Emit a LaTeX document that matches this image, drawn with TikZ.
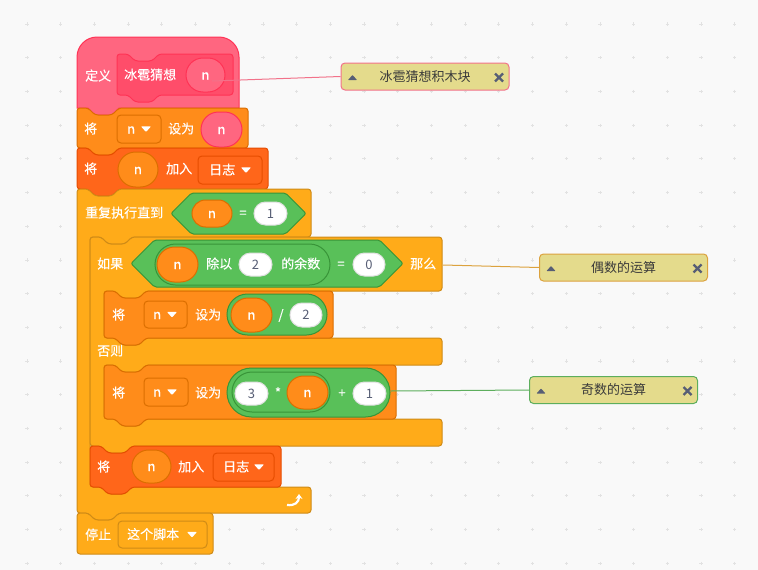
\documentclass[tikz,border=0pt]{standalone}
\usepackage{fontspec}
\newfontfamily\cjk{Noto Sans CJK SC}
\newfontfamily\cjkb[FakeBold=0.35]{Noto Sans CJK SC}
\usetikzlibrary{shapes.misc,arrows.meta}
\definecolor{bgc}{HTML}{F9F9F9}
\definecolor{gridc}{HTML}{E2E2E2}
\definecolor{hatF}{HTML}{FF6680}
\definecolor{hatD}{HTML}{FF3355}
\definecolor{protoF}{HTML}{FF4D6A}
\definecolor{varF}{HTML}{FF8C1A}
\definecolor{varD}{HTML}{DB6E00}
\definecolor{listF}{HTML}{FF661A}
\definecolor{listD}{HTML}{E64D00}
\definecolor{ctlF}{HTML}{FFAB19}
\definecolor{ctlD}{HTML}{CF8B17}
\definecolor{opF}{HTML}{59C059}
\definecolor{opD}{HTML}{389438}
\definecolor{cmtF}{HTML}{E4DB8C}
\definecolor{inkG}{HTML}{575E75}
\definecolor{cmtT}{HTML}{3A3A3A}
\definecolor{pinkL}{HTML}{F2728A}
\definecolor{goldL}{HTML}{DCA23E}
\definecolor{greenL}{HTML}{5DAE5D}
\tikzset{
  blk/.style={line width=1pt, rounded corners=3pt},
  lbl/.style={font=\cjkb\fontsize{13}{15}\selectfont, text=white, inner sep=0pt, anchor=west, text height=10.5pt, text depth=1.5pt},
  oval/.style={rounded rectangle, inner sep=0pt, line width=1pt, font=\cjkb\fontsize{13}{15}\selectfont, text=white, text height=10.5pt, text depth=1.5pt},
  vrep/.style={oval, fill=varF, draw=varD},
  prep/.style={oval, fill=hatF, draw=hatD},
  grep/.style={oval, fill=opF, draw=opD},
  wrep/.style={oval, fill=white, draw=black!12, text=inkG, font=\cjk\fontsize{13}{15}\selectfont},
  drop/.style={rectangle, rounded corners=4pt, inner sep=0pt, line width=1pt},
  cmt/.style={rectangle, rounded corners=4pt, fill=cmtF, line width=1pt, minimum width=168pt, minimum height=27pt, font=\cjk\fontsize{13}{15}\selectfont, text=cmtT, inner sep=0pt},
  conn/.style={line width=1pt},
}
\newcommand\SBstack[6]{\draw[blk,fill=#5,draw=#6] (#1,#2) -- ({#1+11},#2) -- ({#1+18},{#2+7}) -- ({#1+35},{#2+7}) -- ({#1+42},#2) -- (#3,#2) -- (#3,#4) -- ({#1+42},#4) -- ({#1+35},{#4+7}) -- ({#1+18},{#4+7}) -- ({#1+11},#4) -- (#1,#4) -- cycle;}
\newcommand\SBoval[7]{\pgfmathsetmacro\SBw{#4-#2}\pgfmathsetmacro\SBh{#5-#3}\node[#6,minimum width=\SBw pt,minimum height=\SBh pt] (#1) at ({(#2+#4)/2},{(#3+#5)/2}) {#7};}
\newcommand\SBtri[2]{\fill[white,rounded corners=0.7pt] ({#1-5},{#2-2.6}) -- ({#1+5},{#2-2.6}) -- (#1,{#2+3}) -- cycle;}
\newcommand\SBdrop[9]{\pgfmathsetmacro\SBw{#4-#2}\pgfmathsetmacro\SBh{#5-#3}\node[drop,#6,minimum width=\SBw pt,minimum height=\SBh pt] (#1) at ({(#2+#4)/2},{(#3+#5)/2}) {};\node[lbl] (#1t) at (#8,{(#3+#5)/2}) {#7};\SBtri{#9}{(#3+#5)/2}}
\newcommand\SBhex[4]{\draw[line width=1pt, fill=opF, draw=opD, rounded corners=2pt] (#1,{(#2+#4)/2}) -- ({#1+(#4-#2)/2},#2) -- ({#3-(#4-#2)/2},#2) -- (#3,{(#2+#4)/2}) -- ({#3-(#4-#2)/2},#4) -- ({#1+(#4-#2)/2},#4) -- cycle;}
\newcommand\SBcmt[5]{\node[cmt,draw=#4] (#1) at (#2,#3) {#5};
  \fill[inkG,rounded corners=0.6pt] ({#2-84+7},{#3+3.5}) -- ({#2-84+16},{#3+3.5}) -- ({#2-84+11.5},{#3-1.5}) -- cycle;
  \draw[inkG,line width=2.2pt] ({#2+84-14},{#3-3}) -- ({#2+84-6},{#3+5}) ({#2+84-14},{#3+5}) -- ({#2+84-6},{#3-3});}
\begin{document}
\begin{tikzpicture}[x=1pt,y=-1pt]
\useasboundingbox (0,0) rectangle (758,570);
\fill[bgc] (0,0) rectangle (758,570);
\foreach \i in {0,...,22}{\foreach \j in {0,...,16}{
  \draw[gridc,line width=0.7pt] ({27+33.7*\i-1.6},{24+33.7*\j}) -- ++(3.2,0) ({27+33.7*\i},{24+33.7*\j-1.6}) -- ++(0,3.2);}}
% define hat
\draw[line width=1pt,fill=hatF,draw=hatD] (77,108) -- (77,57) .. controls (77,46) and (86,37) .. (97,37) -- (219,37) .. controls (230,37) and (239,46) .. (239,57) -- (239,108) -- (119,108) -- (112,115) -- (95,115) -- (88,108) -- cycle;
\node[lbl] (h1) at (85,76) {定义};
\SBstack{117}{54}{233}{95}{protoF}{hatD}
\node[lbl] (h2) at (124,75) {冰雹猜想};
\SBoval{hv}{186}{58}{225}{92}{prep}{n}
% set n to n
\SBstack{77}{108}{248}{148}{varF}{varD}
\node[lbl] (s1a) at (84,129) {将};
\SBdrop{s1d}{117}{115}{161}{143}{fill=varF,draw=varD}{n}{127}{146}
\node[lbl] (s1b) at (168,129) {设为};
\SBoval{s1v}{201}{112}{242}{147}{prep}{n}
% add n to log
\SBstack{77}{148}{268}{189}{listF}{listD}
\node[lbl] (a1a) at (84,169) {将};
\SBoval{a1v}{118}{152}{158}{187}{vrep}{n}
\node[lbl] (a1b) at (166,169) {加入};
\SBdrop{a1d}{198}{156}{262}{184}{fill=listF,draw=listD}{日志}{209}{246}
% repeat until
\draw[blk,fill=ctlF,draw=ctlD] (77,189) -- (88,189) -- (95,196) -- (112,196) -- (119,189) -- (311,189) -- (311,237) -- (132,237) -- (125,244) -- (108,244) -- (101,237) -- (90,237) -- (90,487) -- (101,487) -- (108,494) -- (125,494) -- (132,487) -- (311,487) -- (311,513) -- (119,513) -- (112,520) -- (95,520) -- (88,513) -- (77,513) -- cycle;
\node[lbl] (r1a) at (85,213) {重复执行直到};
\SBhex{171}{193}{306}{234}
\SBoval{r1v}{192}{200}{232}{227}{vrep}{n}
\node[lbl,anchor=center] (r1eq) at (243,213) {=};
\SBoval{r1n}{254}{202}{287}{225}{wrep}{1}
\draw[white,line width=2.2pt,-{Stealth[length=5pt,width=7pt]}] (287,505) .. controls (295,506) and (299,502) .. (299,494);
% if else
\draw[blk,fill=ctlF,draw=ctlD] (90,237) -- (101,237) -- (108,244) -- (125,244) -- (132,237) -- (442,237) -- (442,291) -- (146,291) -- (139,298) -- (122,298) -- (115,291) -- (104,291) -- (104,338) -- (115,338) -- (122,345) -- (139,345) -- (146,338) -- (442,338) -- (442,365) -- (146,365) -- (139,372) -- (122,372) -- (115,365) -- (104,365) -- (104,419) -- (115,419) -- (122,426) -- (139,426) -- (146,419) -- (442,419) -- (442,446) -- (132,446) -- (125,453) -- (108,453) -- (101,446) -- (90,446) -- cycle;
\node[lbl] (i1a) at (97,264) {如果};
\SBhex{131}{240}{403}{287}
\SBoval{i1m}{155}{244}{330}{285}{grep}{}
\SBoval{i1v}{157}{247}{198}{282}{vrep}{n}
\node[lbl] (i1b) at (206,264) {除以};
\SBoval{i1t}{239}{253}{272}{276}{wrep}{2}
\node[lbl] (i1c) at (281,264) {的余数};
\node[lbl,anchor=center] (i1eq) at (341,264) {=};
\SBoval{i1z}{353}{253}{385}{276}{wrep}{0}
\node[lbl] (i1d) at (410,264) {那么};
\node[lbl] (i1e) at (97,351) {否则};
% set n to n/2
\SBstack{104}{291}{333}{338}{varF}{varD}
\node[lbl] (s2a) at (112,315) {将};
\SBdrop{s2d}{144}{301}{187}{328}{fill=varF,draw=varD}{n}{153}{172}
\node[lbl] (s2b) at (195,315) {设为};
\SBoval{s2g}{227}{294}{327}{335}{grep}{}
\SBoval{s2v}{231}{298}{272}{332}{vrep}{n}
\node[lbl,anchor=center] (s2op) at (281,315) {/};
\SBoval{s2n}{290}{303}{322}{327}{wrep}{2}
% set n to 3*n+1
\SBstack{104}{365}{396}{419}{varF}{varD}
\node[lbl] (s3a) at (112,393) {将};
\SBdrop{s3d}{144}{378}{188}{406}{fill=varF,draw=varD}{n}{153}{172}
\node[lbl] (s3b) at (195,393) {设为};
\SBoval{s3g}{227}{368}{390}{417}{grep}{}
\SBoval{s3h}{232}{372}{330}{412}{grep}{}
\SBoval{s3x}{235}{382}{268}{405}{wrep}{3}
\node[lbl,anchor=center] (s3op) at (278,393) {*};
\SBoval{s3v}{287}{376}{328}{409}{vrep}{n}
\node[lbl,anchor=center] (s3pl) at (342,393) {+};
\SBoval{s3y}{353}{382}{386}{405}{wrep}{1}
% add n to log (inner)
\SBstack{90}{446}{281}{487}{listF}{listD}
\node[lbl] (a2a) at (97,467) {将};
\SBoval{a2v}{132}{450}{171}{483}{vrep}{n}
\node[lbl] (a2b) at (178,467) {加入};
\SBdrop{a2d}{213}{453}{274}{481}{fill=listF,draw=listD}{日志}{223}{259}
% stop
\draw[blk,fill=ctlF,draw=ctlD] (77,513) -- (88,513) -- (95,520) -- (112,520) -- (119,513) -- (213,513) -- (213,554) -- (77,554) -- cycle;
\node[lbl] (st1) at (85,535) {停止};
\SBdrop{st1d}{118}{521}{207}{548}{fill=ctlF,draw=ctlD}{这个脚本}{127}{192}
% connectors and comments
\coordinate (p1) at (212,81);
\coordinate (p2) at (443,265);
\coordinate (p3) at (391,391);
\SBcmt{c1}{425}{76.5}{pinkL}{冰雹猜想积木块}
\SBcmt{c2}{623.5}{267.5}{goldL}{偶数的运算}
\SBcmt{c3}{613.5}{390}{greenL}{奇数的运算}
\draw[conn,pinkL] (p1) -- (c1.west);
\draw[conn,goldL] (p2) -- (c2.west);
\draw[conn,greenL] (p3) -- (c3.west);
\end{tikzpicture}
\end{document}
